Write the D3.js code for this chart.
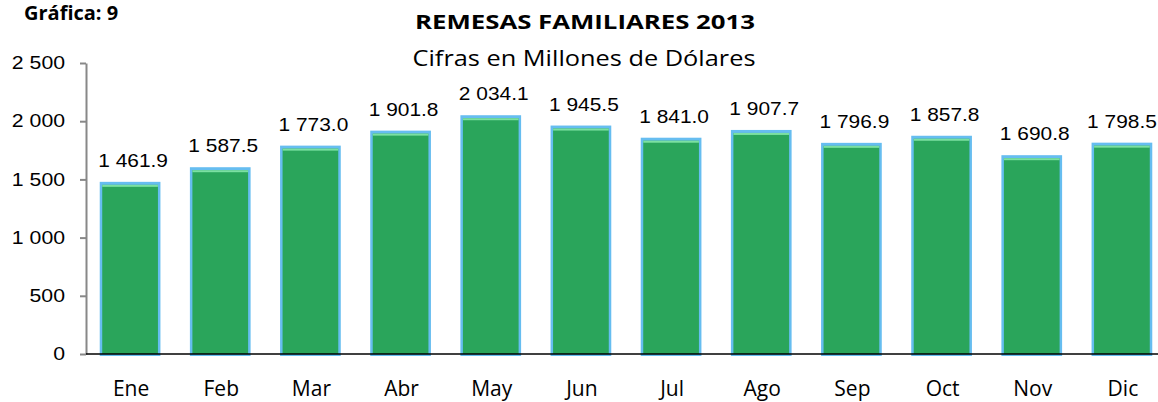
<!DOCTYPE html>
<html>
<head>
<meta charset="utf-8">
<script src="https://cdn.jsdelivr.net/npm/d3@7"></script>
<style>
  body { margin: 0; background: #fff; }
  svg { display: block; }
</style>
</head>
<body>
<div id="chart"></div>
<script>
// monthly family remittances 2013 (millions of USD)
var months = ["Ene", "Feb", "Mar", "Abr", "May", "Jun", "Jul", "Ago", "Sep", "Oct", "Nov", "Dic"];
var remesas = [1461.9, 1587.5, 1773.0, 1901.8, 2034.1, 1945.5, 1841.0, 1907.7, 1796.9, 1857.8, 1690.8, 1798.5];
var yTicks = [0, 500, 1000, 1500, 2000, 2500];

var width = 1158, height = 402,
    margin = {top: 63, right: -9, bottom: 48, left: 85};

var svg = d3.select("#chart")
  .append("svg")
    .attr("width", width)
    .attr("height", height);

// format 1461.9 -> "1 461.9"
var fmtVal = function(v) { return d3.format(",.1f")(v).replace(/,/g, " "); };
var fmtTick = function(v) { return d3.format(",")(v).replace(/,/g, " "); };

// the original text is a bit wider than our fonts, stretch it a little
function stretch(sel, k) {
  sel.each(function() {
    var w = this.getComputedTextLength();
    d3.select(this).attr("textLength", w * k).attr("lengthAdjust", "spacingAndGlyphs");
  });
}

var x = d3.scaleBand()
    .domain(months)
    .range([margin.left, width - margin.right])
    .paddingInner(0.36)
    .paddingOuter(0.18);

var y = d3.scaleLinear()
    .domain([0, 2500])
    .range([height - margin.bottom, margin.top]);

// titles
svg.append("text")
    .attr("x", 24).attr("y", 20)
    .attr("font-family", "Open Sans, sans-serif")
    .attr("font-weight", "bold")
    .attr("font-size", 20)
    .text("Gráfica: 9");

svg.append("text")
    .attr("x", 585).attr("y", 29)
    .attr("text-anchor", "middle")
    .attr("font-family", "Open Sans, sans-serif")
    .attr("font-weight", "bold")
    .attr("font-size", 20)
    .attr("textLength", 340)
    .attr("lengthAdjust", "spacingAndGlyphs")
    .text("REMESAS FAMILIARES  2013");

svg.append("text")
    .attr("x", 584).attr("y", 66)
    .attr("text-anchor", "middle")
    .attr("font-family", "Open Sans, sans-serif")
    .attr("font-size", 22)
    .attr("textLength", 343)
    .attr("lengthAdjust", "spacingAndGlyphs")
    .text("Cifras en Millones de Dólares");

// y axis
var yAxis = svg.append("g")
    .attr("transform", "translate(" + (margin.left + 1) + ",0)")
    .call(d3.axisLeft(y).tickValues(yTicks).tickSize(6).tickSizeOuter(0).tickPadding(15).tickFormat(fmtTick));
yAxis.select(".domain").attr("stroke", "#888").attr("stroke-width", 2);
yAxis.selectAll(".tick line").attr("stroke", "#888").attr("stroke-width", 2);
yAxis.selectAll(".tick text")
    .attr("font-family", "Liberation Sans, Arial, sans-serif")
    .attr("font-size", 18)
    .attr("fill", "#000")
    .call(stretch, 1.18);

// bars
var bar = svg.append("g").selectAll("g.bar")
  .data(remesas)
  .enter().append("g")
    .attr("class", "bar");

// light blue frame
bar.append("rect")
    .attr("x", function(d, i) { return x(months[i]) - 1.5; })
    .attr("y", function(d) { return y(d) - 2; })
    .attr("width", x.bandwidth() + 3)
    .attr("height", function(d) { return y(0) - y(d) + 4; })
    .attr("fill", "#66bdf0");

// green body
bar.append("rect")
    .attr("x", function(d, i) { return x(months[i]) + 1; })
    .attr("y", function(d) { return y(d) + 1; })
    .attr("width", x.bandwidth() - 2)
    .attr("height", function(d) { return y(0) - y(d) - 1; })
    .attr("fill", "#2aa55b");

// bevel highlight on top
bar.append("rect")
    .attr("x", function(d, i) { return x(months[i]) + 1; })
    .attr("y", function(d) { return y(d) + 1; })
    .attr("width", x.bandwidth() - 2)
    .attr("height", 2)
    .attr("fill", "#7be0a2");

// value labels
bar.append("text")
    .attr("x", function(d, i) { return Math.min(x(months[i]) + x.bandwidth() / 2 + 3, width - 36); })
    .attr("y", function(d) { return y(d) - 17; })
    .attr("text-anchor", "middle")
    .attr("font-family", "Liberation Sans, Arial, sans-serif")
    .attr("font-size", 19)
    .text(function(d) { return fmtVal(d); })
    .call(stretch, 1.1);

// baseline
svg.append("line")
    .attr("x1", margin.left + 1).attr("x2", width)
    .attr("y1", y(0)).attr("y2", y(0))
    .attr("stroke", "#000")
    .attr("stroke-width", 1.5);

// month labels
svg.append("g").selectAll("text")
  .data(months)
  .enter().append("text")
    .attr("x", function(d) { return x(d) + x.bandwidth() / 2 + 1; })
    .attr("y", 396)
    .attr("text-anchor", "middle")
    .attr("font-family", "Open Sans, sans-serif")
    .attr("font-size", 21)
    .text(function(d) { return d; });
</script>
</body>
</html>
